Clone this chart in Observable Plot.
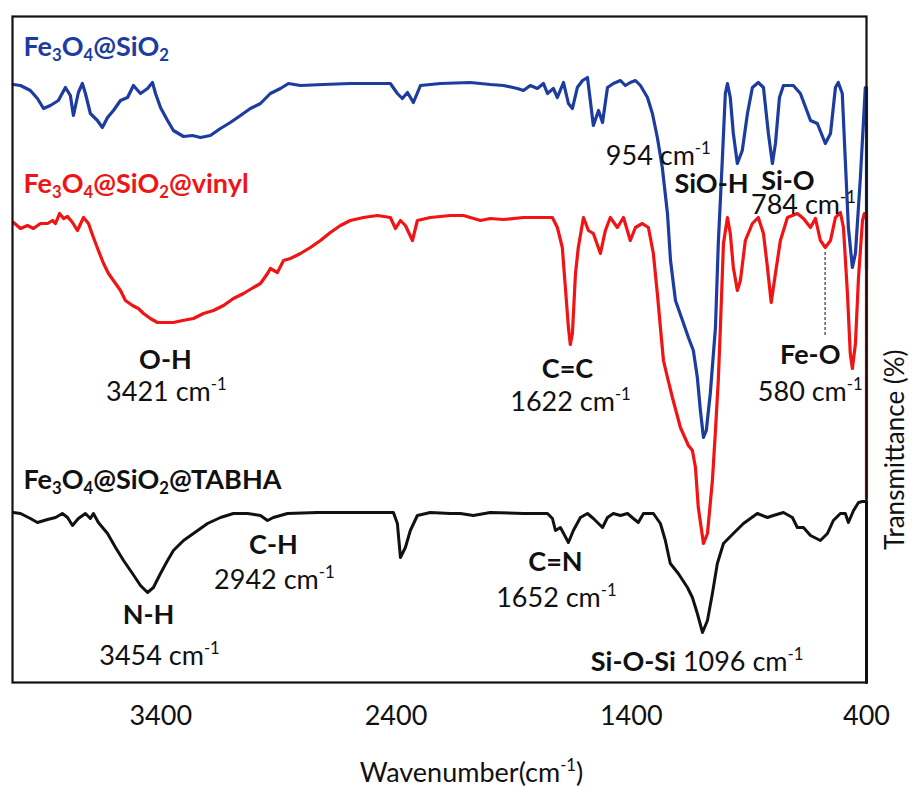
<!DOCTYPE html>
<html><head><meta charset="utf-8">
<script src="https://cdn.jsdelivr.net/npm/d3@7"></script>
<script src="https://cdn.jsdelivr.net/npm/@observablehq/plot@0.6"></script>
<style>
html,body{margin:0;padding:0;background:#fff;}
#chart svg{display:block;}
</style></head><body><div id="chart"></div>
<script>
// ---- data (wavenumber cm-1, offset transmittance a.u.) ----
const seriesNames = ["Fe_{3}O_{4}@SiO_{2}", "Fe_{3}O_{4}@SiO_{2}@vinyl", "Fe_{3}O_{4}@SiO_{2}@TABHA"];
const seriesColors = ["#1d3c9f", "#f01414", "#111111"];
const seriesLabelT = [627, 490, 194];
const xTicks = [3400, 2400, 1400, 400];

const fe3o4SiO2 = [[4027,598],[3996,597],[3954,592],[3924,584],[3898,574],[3869,577],[3835,582],[3805,595],[3784,587],[3771,567],[3750,590],[3733,599],[3720,589],[3699,569],[3669,562],[3648,555],[3626,565],[3601,572],[3571,582],[3541,585],[3516,597],[3486,589],[3456,594],[3435,600],[3422,589],[3401,575],[3371,562],[3346,552],[3303,546],[3265,547],[3231,545],[3189,547],[3146,554],[3104,560],[3061,567],[3019,574],[2976,579],[2934,589],[2891,594],[2857,599],[2806,597],[2708,598],[2594,599],[2479,599],[2424,599],[2394,589],[2373,584],[2351,590],[2326,580],[2296,597],[2211,599],[2084,600],[1999,598],[1943,597],[1884,594],[1858,592],[1829,597],[1799,594],[1773,599],[1756,589],[1731,594],[1714,585],[1688,600],[1667,579],[1650,574],[1629,595],[1607,602],[1586,605],[1574,582],[1561,557],[1539,572],[1522,560],[1501,595],[1476,599],[1446,602],[1425,597],[1404,600],[1382,602],[1361,597],[1331,585],[1310,569],[1289,545],[1268,515],[1246,469],[1233,422],[1212,382],[1182,362],[1157,345],[1136,332],[1119,305],[1106,272],[1093,245],[1081,252],[1064,289],[1042,355],[1030,439],[1013,522],[1000,589],[991,599],[979,585],[966,549],[949,519],[928,532],[906,569],[885,595],[860,600],[838,595],[817,549],[800,519],[787,539],[770,585],[753,597],[711,597],[681,589],[638,562],[609,559],[575,539],[553,549],[532,595],[520,600],[503,589],[490,522],[477,455],[460,415],[447,429],[426,505],[405,595],[400,595],[400,414]];

const fe3o4SiO2Vinyl = [[4026,460],[3996,454],[3966,457],[3941,454],[3911,459],[3881,459],[3860,462],[3847,459],[3830,469],[3813,464],[3796,466],[3775,460],[3754,452],[3728,465],[3707,459],[3686,445],[3665,432],[3643,419],[3622,409],[3592,399],[3571,392],[3550,382],[3520,377],[3495,374],[3473,369],[3444,364],[3414,360],[3371,360],[3346,360],[3307,362],[3261,364],[3218,369],[3176,372],[3133,377],[3091,384],[3048,389],[3006,395],[2976,399],[2946,409],[2934,414],[2904,410],[2878,422],[2849,424],[2806,429],[2764,435],[2721,442],[2679,450],[2636,457],[2594,462],[2538,465],[2479,467],[2424,465],[2402,454],[2381,462],[2360,457],[2330,442],[2309,462],[2254,465],[2169,467],[2113,467],[2041,462],[1999,464],[1943,463],[1858,465],[1773,465],[1735,465],[1714,455],[1693,435],[1680,395],[1667,355],[1659,338],[1650,349],[1637,409],[1625,435],[1603,465],[1582,452],[1561,449],[1531,429],[1510,452],[1489,465],[1459,455],[1433,465],[1404,442],[1382,455],[1353,459],[1327,455],[1306,429],[1289,389],[1276,355],[1263,322],[1246,305],[1225,285],[1191,255],[1157,237],[1140,232],[1127,215],[1115,175],[1093,139],[1076,149],[1055,202],[1042,252],[1030,302],[1021,355],[1008,439],[991,465],[979,449],[966,415],[949,392],[936,402],[915,442],[885,459],[860,465],[838,449],[821,415],[805,380],[787,409],[766,442],[736,465],[694,469],[668,464],[638,455],[617,464],[596,442],[575,435],[553,442],[532,465],[511,470],[498,455],[481,389],[469,329],[460,314],[447,339],[434,405],[417,462],[409,469],[400,469],[400,184]];

const fe3o4SiO2Tabha = [[4026,170],[3996,169],[3954,164],[3924,160],[3881,163],[3847,165],[3818,169],[3796,165],[3775,157],[3750,164],[3720,169],[3699,164],[3686,169],[3665,160],[3626,149],[3592,135],[3558,122],[3520,109],[3486,97],[3456,90],[3431,95],[3401,109],[3371,122],[3346,132],[3303,142],[3261,149],[3201,159],[3146,165],[3091,169],[3031,169],[2976,167],[2946,162],[2921,165],[2861,169],[2734,170],[2521,170],[2411,170],[2394,159],[2381,125],[2360,135],[2339,152],[2309,167],[2254,170],[2169,169],[2126,169],[2071,167],[1999,170],[1858,169],[1756,169],[1735,164],[1722,152],[1701,155],[1667,140],[1646,152],[1616,165],[1586,169],[1561,164],[1522,155],[1501,165],[1476,169],[1446,167],[1416,169],[1391,164],[1370,160],[1348,169],[1306,169],[1276,159],[1255,142],[1234,119],[1200,109],[1161,95],[1140,85],[1119,69],[1097,50],[1076,62],[1055,89],[1034,119],[1008,139],[966,149],[923,159],[864,169],[821,165],[796,167],[753,170],[715,165],[694,155],[668,155],[638,147],[596,142],[566,149],[541,162],[511,169],[490,169],[477,160],[455,172],[434,180],[417,181],[400,181],[400,0]];

// peak annotations: text, wavenumber of label centre, baseline level (a.u.)
const annText = ["954 cm^{-1}", "*SiO-H*", "*Si-O*", "784 cm^{-1}", "*O-H*", "3421 cm^{-1}", "*C=C*", "1622 cm^{-1}", "*Fe-O*", "580 cm^{-1}", "*C-H*", "2942 cm^{-1}", "*N-H*", "3454 cm^{-1}", "*C=N*", "1652 cm^{-1}", "*Si-O-Si* 1096 cm^{-1}"];
const annWn = [1285, 1059, 734, 668, 3380, 3376, 1671, 1658, 639, 639, 2921, 2917, 3452, 3405, 1722, 1718, 1120];
const annT = [518, 490, 493, 469, 314, 282, 305, 272, 319, 282, 129, 94, 59, 18, 112, 76, 12];
const feOMarker = {wn: 576, t1: 347, t2: 432};
const xTitle = {text: "Wavenumber(cm^{-1})", wn: 2079};
const yTitle = "Transmittance (%)";

// ---- build tables ----
const toRows = (arr, i) => arr.map(([wn, t]) => ({series: seriesNames[i], wn, t}));
const blueRows = toRows(fe3o4SiO2, 0), redRows = toRows(fe3o4SiO2Vinyl, 1), blackRows = toRows(fe3o4SiO2Tabha, 2);
const seriesLabels = seriesNames.map((s, i) => ({s, wn: 3983, t: seriesLabelT[i], c: seriesColors[i]}));
const anns = annText.map((s, i) => ({s, wn: annWn[i], t: annT[i]}));

const FS = 27;
const svg = Plot.plot({
  width: 912, height: 787,
  marginTop: 16, marginBottom: 105, marginLeft: 12, marginRight: 46,
  style: {fontFamily: "Lato, 'Open Sans', sans-serif", fontSize: FS + "px", background: "#fff"},
  x: {domain: [4030, 400], axis: null},
  y: {domain: [0, 666], axis: null},
  marks: [
    Plot.axisX({ticks: xTicks, tickSize: 0, tickPadding: 23, tickFormat: d => String(d), label: null, fontSize: FS, color: "#111"}),
    Plot.line(redRows, {x: "wn", y: "t", stroke: seriesColors[1], strokeWidth: 3.2}),
    Plot.line(blueRows, {x: "wn", y: "t", stroke: seriesColors[0], strokeWidth: 3.2}),
    Plot.line(blackRows, {x: "wn", y: "t", stroke: seriesColors[2], strokeWidth: 3}),
    Plot.ruleX([feOMarker], {x: "wn", y1: "t1", y2: "t2", stroke: "#444", strokeWidth: 1.3, strokeDasharray: "3,2"}),
    Plot.frame({stroke: "#111", strokeWidth: 2.2}),
    Plot.text(seriesLabels, {x: "wn", y: "t", text: "s", fill: "c", textAnchor: "start", lineAnchor: "bottom", fontWeight: "bold", fontSize: FS}),
    Plot.text(anns, {x: "wn", y: "t", text: "s", fill: "#111", textAnchor: "middle", lineAnchor: "bottom", fontSize: FS}),
    Plot.text([yTitle], {frameAnchor: "right", dx: 29, rotate: -90, fill: "#111", fontSize: 26}),
    Plot.text([xTitle], {x: "wn", frameAnchor: "bottom", dy: 99, text: "text", lineAnchor: "bottom", fill: "#111", fontSize: FS})
  ]
});
document.getElementById("chart").appendChild(svg);

// rich text: *bold*, _{sub}, ^{sup}
function rich(el) {
  const s = el.textContent;
  if (!/[*_^]/.test(s)) return;
  const fs = parseFloat(getComputedStyle(el).fontSize) || FS;
  while (el.firstChild) el.removeChild(el.firstChild);
  let bold = null, offset = 0;
  for (const p of s.split(/(\*|_\{[^}]*\}|\^\{[^}]*\})/)) {
    if (!p) continue;
    if (p === "*") { bold = bold === "bold" ? "normal" : "bold"; continue; }
    let target = 0, str = p, small = false;
    if (p.startsWith("_{")) { target = fs * 0.2; str = p.slice(2, -1); small = true; }
    else if (p.startsWith("^{")) { target = -fs * 0.4; str = p.slice(2, -1); small = true; }
    const t = document.createElementNS("http://www.w3.org/2000/svg", "tspan");
    const dy = target - offset;
    if (dy) t.setAttribute("dy", dy.toFixed(2));
    offset = target;
    if (small) t.setAttribute("font-size", (fs * 0.62).toFixed(1));
    if (bold) t.setAttribute("font-weight", bold);
    t.textContent = str;
    el.appendChild(t);
  }
}
d3.select(svg).selectAll("text").each(function() { rich(this); });
</script>
</body></html>
